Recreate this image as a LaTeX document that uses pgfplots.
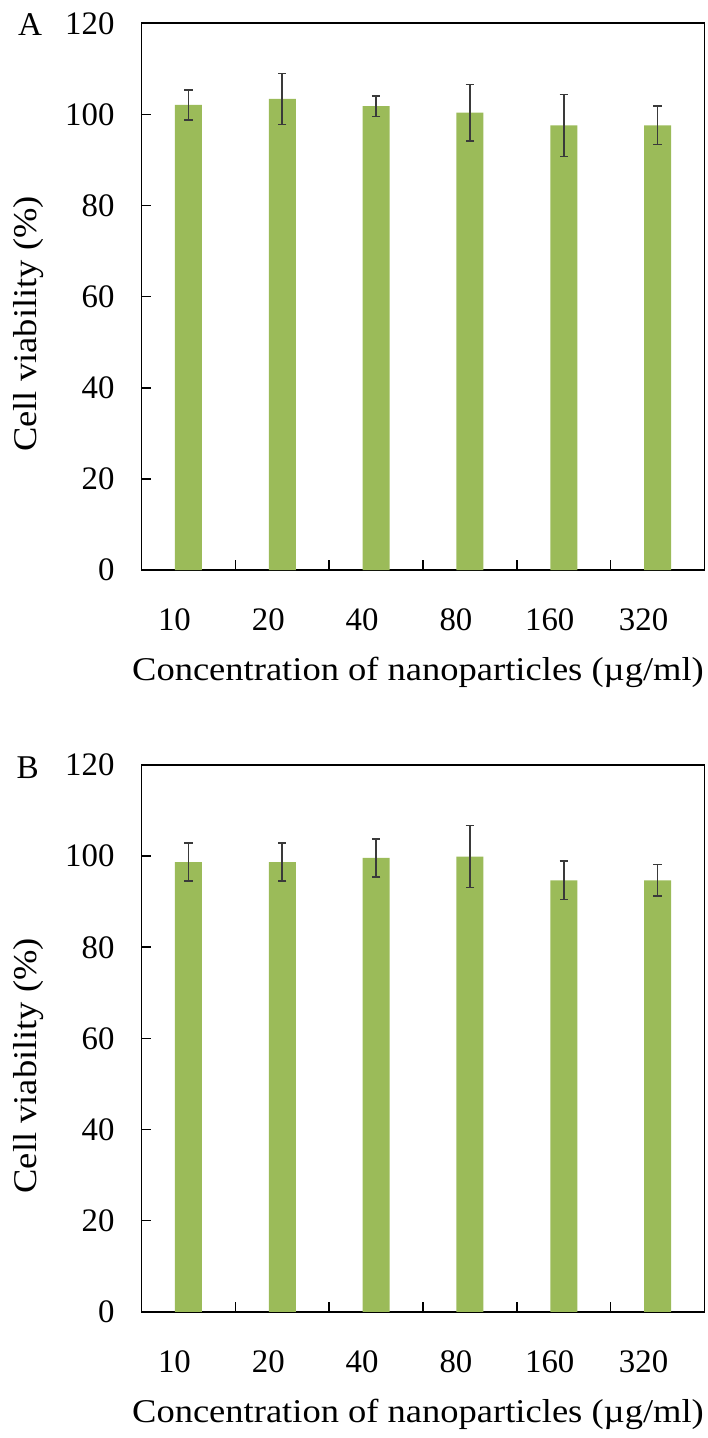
\documentclass[border=0pt]{standalone}
\usepackage{fontspec}
\setmainfont{Liberation Serif}
\newfontfamily\labelfont{Liberation Serif}[FakeStretch=1.1]
\usepackage{pgfplots}
\usepackage{pgfplotstable}
\pgfplotsset{compat=1.18}
\definecolor{barg}{HTML}{9BBB59}
\definecolor{errc}{HTML}{3A3A3A}

\pgfplotstableread{
x y e
0 102.1 3.3
1 103.4 5.6
2 101.8 2.3
3 100.4 6.2
4 97.6 6.8
5 97.6 4.2
}\dataA

\pgfplotstableread{
x y e
0 98.7 4.2
1 98.7 4.2
2 99.6 4.2
3 99.9 6.8
4 94.7 4.2
5 94.7 3.5
}\dataB

\pgfplotsset{
  cvstyle/.style={
    scale only axis, width=281.5pt, height=273.4pt,
    xmin=-0.5, xmax=5.5, ymin=0, ymax=120,
    clip=false,
    ytick={0,20,...,120},
    xtick={0,...,5},
    xticklabels={10,20,40,80,160,320},
    minor xtick={0.5,1.5,2.5,3.5,4.5},
    every major x tick/.append style={draw=none},
    tick align=inside, tick pos=left,
    major tick length=4.5pt, minor tick length=5pt,
    axis line style={line width=0.8pt},
    tick style={line width=0.8pt, black},
    font=\fontsize{16.4}{19}\selectfont,
    /pgf/number format/assume math mode=true,
    yticklabel style={xshift=-10pt},
    xticklabel style={anchor=center, yshift=-25pt, xshift=-7pt},
    xlabel={Concentration of nanoparticles (µg/ml)},
    ylabel={Cell viability (\%)},
    xlabel style={at={(axis description cs:0.5,-0.187)}, anchor=center, xshift=-2.5pt, font=\labelfont\fontsize{16.6}{19}\selectfont},
    ylabel style={at={(axis description cs:-0.2,0.45)}, anchor=center, font=\labelfont\fontsize{16.6}{19}\selectfont},
  },
  cvbar/.style={
    ybar, bar width=13.5pt, fill=barg, draw=none,
    error bars/.cd, y dir=both, y explicit,
    error bar style={line width=0.8pt, errc},
    error mark options={rotate=90, mark size=2.1pt, line width=0.8pt, errc},
  },
}

\begin{document}
\begin{tikzpicture}
\path[use as bounding box] (0,0) rectangle (353.5pt,719pt);
\begin{axis}[cvstyle, at={(70.75pt,707.35pt)}, anchor=north west]
  \addplot[cvbar] table[x=x, y=y, y error=e] {\dataA};
  \node[font=\fontsize{16.6}{19}\selectfont] at (axis description cs:-0.198,0.997) {A};
\end{axis}
\begin{axis}[cvstyle, at={(70.75pt,336.5pt)}, anchor=north west]
  \addplot[cvbar] table[x=x, y=y, y error=e] {\dataB};
  \node[font=\fontsize{16.6}{19}\selectfont] at (axis description cs:-0.202,0.995) {B};
\end{axis}
\end{tikzpicture}
\end{document}
